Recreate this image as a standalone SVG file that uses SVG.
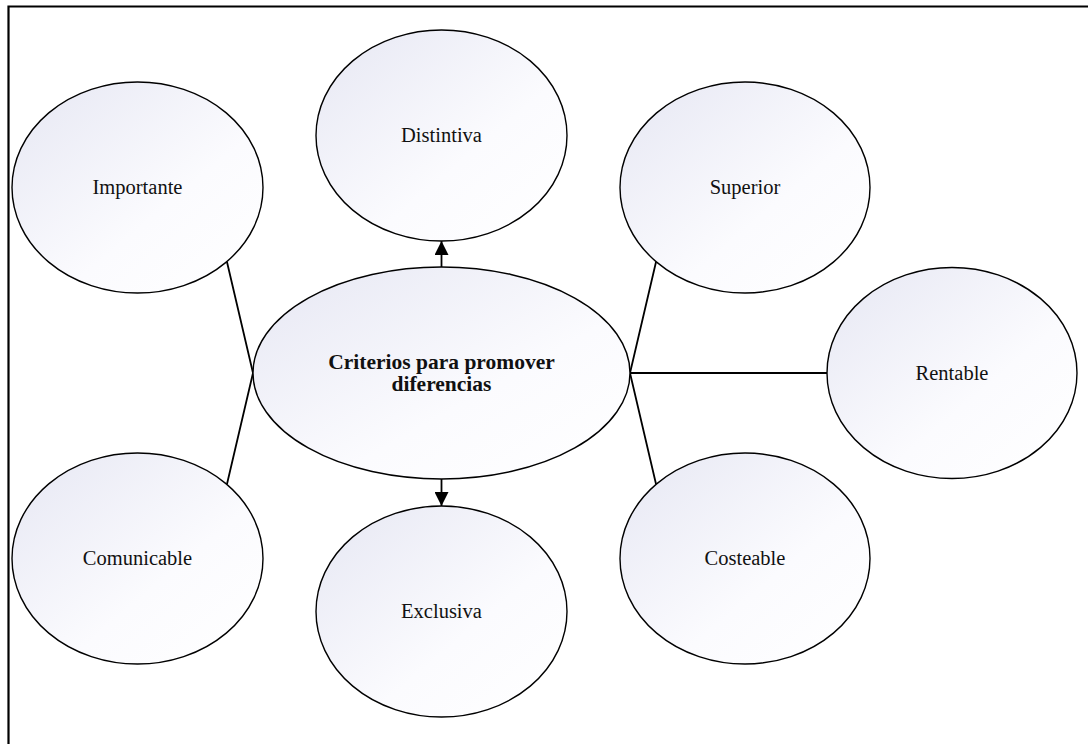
<svg xmlns="http://www.w3.org/2000/svg" width="1088" height="744" viewBox="0 0 1088 744">
  <style>
    .node ellipse { fill: url(#bubbleFill); stroke: #000; stroke-width: 1.4; }
    .node text { font-family: "Liberation Serif", "Times New Roman", serif; font-size: 20.5px; fill: #111; text-anchor: middle; }
    .node text.main { font-weight: bold; font-size: 21.5px; }
    .link { stroke: #000; stroke-width: 1.8; fill: none; }
  </style>
  <defs>
    <linearGradient id="bubbleFill" x1="0" y1="0" x2="1" y2="1">
      <stop offset="0" stop-color="#e6e7f3"/>
      <stop offset="0.6" stop-color="#fbfbfe"/>
      <stop offset="1" stop-color="#ffffff"/>
    </linearGradient>
    <marker id="arrow" viewBox="0 0 10 10" refX="10" refY="5" markerWidth="14" markerHeight="14" markerUnits="userSpaceOnUse" orient="auto">
      <path d="M0,0 L10,5 L0,10 z" fill="#000"/>
    </marker>
  </defs>

  <rect width="1088" height="744" fill="#fff"/>
  <!-- page frame -->
  <path d="M8.5,744 V6.5 H1088" fill="none" stroke="#000" stroke-width="2.2"/>

  <g id="connectors">
    <line class="link" x1="441.5" y1="267" x2="441.5" y2="241" marker-end="url(#arrow)"/>
    <line class="link" x1="441.5" y1="479" x2="441.5" y2="506" marker-end="url(#arrow)"/>
    <polyline class="link" points="227,262 253,373 227,484"/>
    <polyline class="link" points="656,262 630,373 656,484"/>
    <line class="link" x1="630" y1="373" x2="827" y2="373"/>
  </g>

  <g id="node-distintiva" class="node">
    <ellipse cx="441.5" cy="135.5" rx="125.5" ry="105.5"/>
    <text x="441.5" y="142">Distintiva</text>
  </g>
  <g id="node-importante" class="node">
    <ellipse cx="137.5" cy="187.5" rx="125.5" ry="105.5"/>
    <text x="137.5" y="194">Importante</text>
  </g>
  <g id="node-superior" class="node">
    <ellipse cx="745" cy="187.5" rx="125" ry="105.5"/>
    <text x="745" y="194">Superior</text>
  </g>
  <g id="node-center" class="node">
    <ellipse cx="441.5" cy="373" rx="188.5" ry="106"/>
    <text class="main" x="441.5" y="369">Criterios para promover</text>
    <text class="main" x="441.5" y="391">diferencias</text>
  </g>
  <g id="node-rentable" class="node">
    <ellipse cx="952" cy="373" rx="125" ry="105.5"/>
    <text x="952" y="380">Rentable</text>
  </g>
  <g id="node-comunicable" class="node">
    <ellipse cx="137.5" cy="558.5" rx="125.5" ry="105.5"/>
    <text x="137.5" y="565">Comunicable</text>
  </g>
  <g id="node-exclusiva" class="node">
    <ellipse cx="441.5" cy="611.5" rx="125.5" ry="105.5"/>
    <text x="441.5" y="618">Exclusiva</text>
  </g>
  <g id="node-costeable" class="node">
    <ellipse cx="745" cy="558.5" rx="125" ry="105.5"/>
    <text x="745" y="565">Costeable</text>
  </g>
</svg>
